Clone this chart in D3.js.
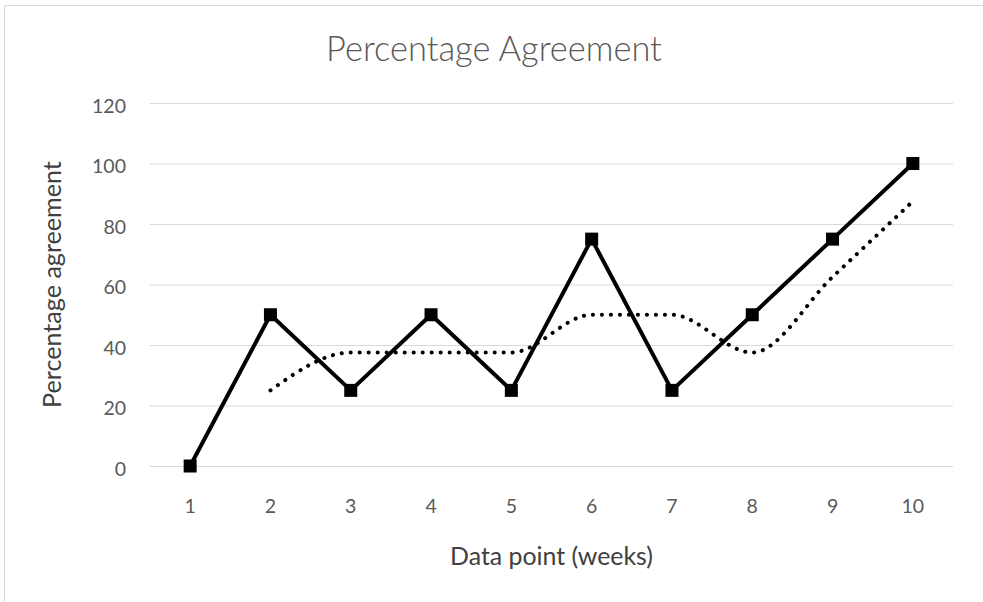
<!DOCTYPE html>
<html>
<head>
<meta charset="utf-8">
<script src="https://cdn.jsdelivr.net/npm/d3@7"></script>
<style>
  body { margin: 0; background: #fff; }
  svg { font-family: Lato, "Open Sans", sans-serif; }
</style>
</head>
<body>
<svg class="linechart" width="983" height="602"></svg>
<script>
// data
let weeks = ["1", "2", "3", "4", "5", "6", "7", "8", "9", "10"];
let agreement = [0, 50, 25, 50, 25, 75, 25, 50, 75, 100];
// 2 period moving average (dotted trend line), no value for week 1
let movingAvg = [null, 25, 37.5, 37.5, 37.5, 50, 50, 37.5, 62.5, 87.5];
let yTicks = [0, 20, 40, 60, 80, 100, 120];

let drawLineChart = function () {
  let svg = d3.select("body").select(".linechart");

  let margin = {
    top: 103,
    right: 30,
    bottom: 136,
    left: 150
  };

  let bounds = svg.node().getBoundingClientRect();
  let plotWidth = bounds.width - margin.right - margin.left;
  let plotHeight = bounds.height - margin.top - margin.bottom;

  // chart area border (only top and left show in the picture)
  svg.append("path")
    .attr("d", "M4.5," + bounds.height + "V5.5H" + bounds.width)
    .attr("fill", "none")
    .attr("stroke", "#d9d9d9")
    .attr("stroke-width", 1.2);

  //scales
  let yScale = d3.scaleLinear()
    .domain([0, 120])
    .range([plotHeight, 0]);
  let xScale = d3.scaleBand()
    .domain(weeks)
    .range([0, plotWidth]);
  let xCenter = d => xScale(d) + xScale.bandwidth() / 2;

  let plot = svg.append("g").attr("id", "plot");
  plot.attr("transform", translate(margin.left, margin.top));

  // gridlines
  let gridlines = d3.axisLeft(yScale)
    .tickValues(yTicks)
    .tickFormat("")
    .tickSize(-plotWidth);
  let grid = plot.append("g").attr("class", "grid").call(gridlines);
  grid.select(".domain").remove();
  grid.selectAll("line").attr("stroke", "#d9d9d9").attr("stroke-width", 1.2);

  // y axis labels
  let yAxis = d3.axisLeft(yScale).tickValues(yTicks).tickSize(0).tickPadding(24);
  let yGroup = plot.append("g").attr("id", "y-axis").call(yAxis);
  yGroup.select(".domain").remove();
  yGroup.selectAll("text")
    .attr("dy", "0.48em")
    .style("font-size", "19.5px")
    .style("font-family", "Lato, sans-serif")
    .attr("fill", "#595959");

  // x axis labels
  let xAxis = d3.axisBottom(xScale).tickSize(0).tickPadding(0);
  let xGroup = plot.append("g").attr("id", "x-axis")
    .attr("transform", translate(0, plotHeight))
    .call(xAxis);
  xGroup.select(".domain").remove();
  xGroup.selectAll("text")
    .attr("y", 47)
    .attr("dy", 0)
    .style("font-size", "19.5px")
    .style("font-family", "Lato, sans-serif")
    .attr("fill", "#595959");

  // dotted moving average, smoothed
  let trendLine = d3.line()
    .defined(d => d.v != null)
    .x(d => xCenter(d.week))
    .y(d => yScale(d.v))
    .curve(d3.curveMonotoneX);

  plot.append("path")
    .datum(weeks.map((w, i) => ({week: w, v: movingAvg[i]})))
    .attr("fill", "none")
    .attr("stroke", "#000")
    .attr("stroke-width", 4)
    .attr("stroke-linecap", "round")
    .attr("stroke-dasharray", "0.1 8.9")
    .attr("d", trendLine);

  // main series
  let series = weeks.map((w, i) => ({week: w, v: agreement[i]}));
  let line1 = d3.line()
    .x(d => xCenter(d.week))
    .y(d => yScale(d.v));

  plot.append("path")
    .datum(series)
    .attr("fill", "none")
    .attr("stroke", "#000")
    .attr("stroke-width", 4)
    .attr("stroke-linejoin", "round")
    .attr("d", line1);

  let markerSize = 13;
  plot.selectAll(".marker")
    .data(series)
    .enter().append("rect")
    .attr("class", "marker")
    .attr("x", d => xCenter(d.week) - markerSize / 2)
    .attr("y", d => yScale(d.v) - markerSize / 2)
    .attr("width", markerSize)
    .attr("height", markerSize)
    .attr("fill", "#000");

  // title
  let title = svg.append("text")
    .attr("class", "title")
    .attr("x", 494)
    .attr("y", 61)
    .attr("text-anchor", "middle")
    .style("font-size", "28px")
    .style("font-weight", 300)
    .attr("fill", "#595959")
    .text("Percentage Agreement");
  fitText(title, 336);

  // label for x axis
  let xLabel = svg.append("text")
    .attr("class", "x-axis-label")
    .attr("x", margin.left + plotWidth / 2)
    .attr("y", 565)
    .attr("text-anchor", "middle")
    .style("font-size", "21px")
    .attr("fill", "#404040")
    .text("Data point (weeks)");
  fitText(xLabel, 203);

  // label for y axis
  let yLabel = svg.append("text")
    .attr("class", "y-axis-label")
    .attr("transform", translate(61, margin.top + plotHeight / 2) + " rotate(-90)")
    .attr("text-anchor", "middle")
    .style("font-size", "21px")
    .attr("fill", "#404040")
    .text("Percentage agreement");
  fitText(yLabel, 247);
};

function fitText(sel, width) {
  let w = sel.node().getComputedTextLength();
  let fs = parseFloat(sel.style("font-size"));
  sel.style("font-size", (fs * width / w) + "px");
}

function translate(x, y) {
  return 'translate(' + x + ',' + y + ')';
}

drawLineChart();
</script>
</body>
</html>
